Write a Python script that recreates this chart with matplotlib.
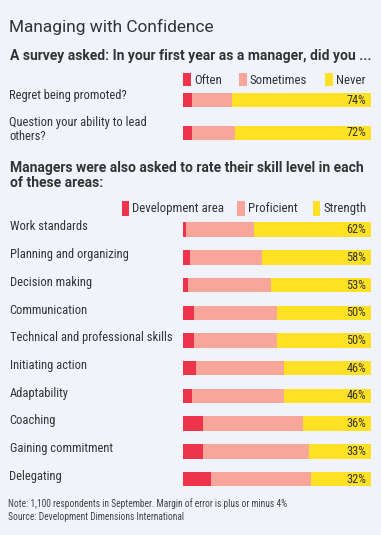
import matplotlib
matplotlib.use("Agg")
import matplotlib.pyplot as plt
from matplotlib.patches import Rectangle
from matplotlib.transforms import blended_transform_factory

# ---- data ----
q_labels = ["Regret being promoted?", "Question your ability to lead\nothers?"]
q_series = ["Often", "Sometimes", "Never"]
q_often = [5, 5]
q_sometimes = [21, 23]
q_never = [74, 72]

s_labels = ["Work standards", "Planning and organizing", "Decision making", "Communication",
            "Technical and professional skills", "Initiating action", "Adaptability",
            "Coaching", "Gaining commitment", "Delegating"]
s_series = ["Development area", "Proficient", "Strength"]
s_dev = [2, 4, 3, 6, 6, 7, 5, 11, 11, 15]
s_prof = [36, 38, 44, 44, 44, 47, 49, 53, 56, 53]
s_str = [62, 58, 53, 50, 50, 46, 46, 36, 33, 32]

title = "Managing with Confidence"
subtitle1 = "A survey asked: In your first year as a manager, did you ..."
subtitle2 = "Managers were also asked to rate their skill level in each\nof these areas:"
note = "Note: 1,100 respondents in September. Margin of error is plus or minus 4%\nSource: Development Dimensions International"

# ---- style ----
BG = "#F0F3FA"
C_RED = "#EE344A"
C_PINK = "#F8A59A"
C_YEL = "#FDE125"
TXT = "#333333"
FONT = ["Roboto", "DejaVu Sans"]
COND = ["Roboto Condensed", "Roboto", "DejaVu Sans"]
plt.rcParams["font.family"] = FONT

W, H = 381, 535
fig = plt.figure(figsize=(W / 100, H / 100), dpi=100, facecolor=BG)

def fx(x):
    return x / W

def fy(y):
    return 1 - y / H

def add_axes_px(left, top, right, bottom):
    return fig.add_axes([fx(left), fy(bottom), fx(right) - fx(left), fy(top) - fy(bottom)])

def draw_stack(ax, labels, a, b, c, height):
    n = len(labels)
    ys = list(range(n))
    ax.barh(ys, a, height=height, color=C_RED, left=0, linewidth=0)
    ax.barh(ys, b, height=height, color=C_PINK, left=a, linewidth=0)
    lefts = [x + y for x, y in zip(a, b)]
    ax.barh(ys, c, height=height, color=C_YEL, left=lefts, linewidth=0)
    for y, v in zip(ys, c):
        ax.text(97.6, y, f"{v}%", ha="right", va="center", fontsize=8.8, color=TXT, family=COND)
    ax.set_xlim(0, 100)
    ax.set_ylim(n - 0.5, -0.5)
    ax.axis("off")
    ax.set_facecolor("none")

# axes for survey
ax1 = add_axes_px(182.7, 83.5, 370.7, 149.5)
draw_stack(ax1, q_labels, q_often, q_sometimes, q_never, 0.44)

# axes for skills
ax2 = add_axes_px(182.7, 215.8, 370.7, 493.0)
draw_stack(ax2, s_labels, s_dev, s_prof, s_str, 0.52)

# row labels
LAB = 9.0
t1 = blended_transform_factory(fig.transFigure, ax1.transData)
ax1.text(fx(9), 0 - 0.15, q_labels[0], transform=t1, ha="left", va="center", fontsize=LAB, color=TXT,
         family=COND)
ax1.text(fx(9), 1 - 0.12, q_labels[1], transform=t1, ha="left", va="center", fontsize=LAB, color=TXT,
         linespacing=1.1, family=COND)
t2 = blended_transform_factory(fig.transFigure, ax2.transData)
for i, lab in enumerate(s_labels):
    ax2.text(fx(9.5), i - 0.1, lab, transform=t2, ha="left", va="center", fontsize=LAB, color=TXT,
             family=COND)

# titles
fig.text(fx(9), fy(27), title, ha="left", va="center", fontsize=12.4, color=TXT)
fig.text(fx(10), fy(56), subtitle1, ha="left", va="center", fontsize=10.0, color=TXT, fontweight="semibold")
fig.text(fx(10), fy(175.5), subtitle2, ha="left", va="center", fontsize=10.0, color=TXT, fontweight="semibold",
         linespacing=1.15)

# legends
def legend_item(x_sw, y_c, color, text, sw_w=8, sw_h=13):
    fig.patches.append(Rectangle((fx(x_sw), fy(y_c + sw_h / 2)), sw_w / W, sw_h / H,
                                 transform=fig.transFigure, color=color, lw=0))
    fig.text(fx(x_sw + sw_w + 3), fy(y_c), text, ha="left", va="center", fontsize=9.3, color=TXT,
             family=COND)

leg1_x = [183, 239, 325]
for x, col, name in zip(leg1_x, [C_RED, C_PINK, C_YEL], q_series):
    legend_item(x, 80, col, name)

leg2_x = [121.5, 237.3, 312.7]
for x, col, name in zip(leg2_x, [C_RED, C_PINK, C_YEL], s_series):
    legend_item(x, 208.5, col, name, sw_w=7.5, sw_h=15)

# footnote
fig.text(fx(8), fy(510), note, ha="left", va="center", fontsize=6.85, color="#444444", linespacing=1.3,
         family=COND)

fig.savefig("out.png", dpi=100, facecolor=BG)
